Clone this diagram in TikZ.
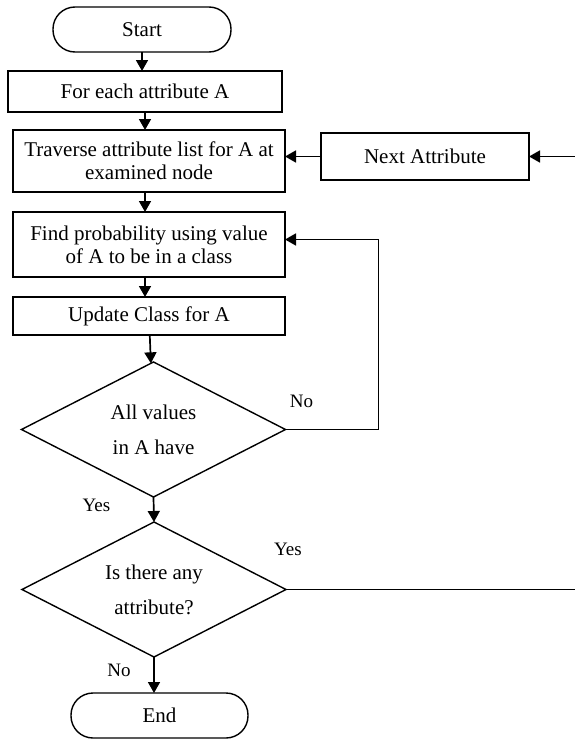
\documentclass[tikz,border=0pt]{standalone}
\usepackage{fontspec}
\setmainfont{Liberation Serif}
\usepackage{tikz}
\tikzset{font={\fontsize{21pt}{23}\selectfont}}
\usetikzlibrary{arrows.meta,positioning,shapes.geometric}

\begin{document}
\begin{tikzpicture}[x=1pt,y=-1pt,line width=1.4pt,>={Triangle[length=11pt,width=12pt]},
                    proc node/.style={rectangle,draw,minimum width=272pt,inner sep=0pt,outer sep=0pt,align=center},
                    term node/.style={rectangle,rounded corners=22pt,draw,minimum width=178pt,minimum height=45pt,
                                      inner sep=0pt,outer sep=0pt},
                    dec node/.style={diamond,aspect=2,draw,minimum width=264pt,minimum height=135pt,inner sep=0pt,
                                     outer sep=0pt,align=center,font={\fontsize{21pt}{35}\selectfont}},
                    lbl node/.style={inner sep=0pt,font={\fontsize{19pt}{21}\selectfont}},
                    flow/.style={->,line width=1.7pt}]
  \useasboundingbox (0,0) rectangle (575,739);

  \node[term node] (start) at (142,29.5) {Start};
  \node[proc node,minimum width=274pt,minimum height=41pt,below=19pt of start,xshift=3pt] (each) {For each attribute A};
  \node[proc node,minimum height=62pt,below=18pt of each,xshift=4pt] (trav) {Traverse attribute list for A at\\examined node};
  \node[proc node,minimum width=208pt,minimum height=47pt,right=36pt of trav,yshift=4.5pt] (next) {Next Attribute};
  \node[proc node,minimum height=65pt,below=20pt of trav] (find) {Find probability using value\\of A to be in a class};
  \node[proc node,minimum height=38pt,below=20pt of find] (upd) {Update Class for A};
  \node[dec node,below=27pt of upd,xshift=4.5pt] (all) {All values\\in A have};
  \node[dec node,below=25pt of all,xshift=0.5pt] (any) {Is there any\\attribute?};
  \node[term node,minimum width=177pt,below=36pt of any,xshift=5.5pt] (end) {End};
  \coordinate (rim) at (575,0);

  \node[lbl node] (no1) at ([xshift=16pt,yshift=28pt]all.east) {No};
  \node[lbl node] (yes1) at ([xshift=-57pt,yshift=-8pt]all.south) {Yes};
  \node[lbl node] (yes2) at ([xshift=2pt,yshift=40pt]any.east) {Yes};
  \node[lbl node] (no2) at ([xshift=-35pt,yshift=-13pt]any.south) {No};

  \draw[flow] (start.south) -- (start.south |- each.north);
  \draw[flow] (each.south) -- (each.south |- trav.north);
  \draw[flow] (trav.south -| each.south) -- (find.north -| each.south);
  \draw[flow] (find.south -| each.south) -- (upd.north -| each.south);
  \draw[flow] (upd) -- (all);
  \draw[flow] (all.south) -- (any.north);
  \draw[flow] (any.south) -- (any.south |- end.north);
  \draw[flow] (all.east) -- ++(93,0) |- ([yshift=5pt]find.east);
  \draw[flow] (next.west) -- (next.west -| trav.east);
  \draw[flow] (next.east -| rim) -- (next.east);
  \draw[line width=1.7pt] (any.east) -- (any.east -| rim);
\end{tikzpicture}
\end{document}
